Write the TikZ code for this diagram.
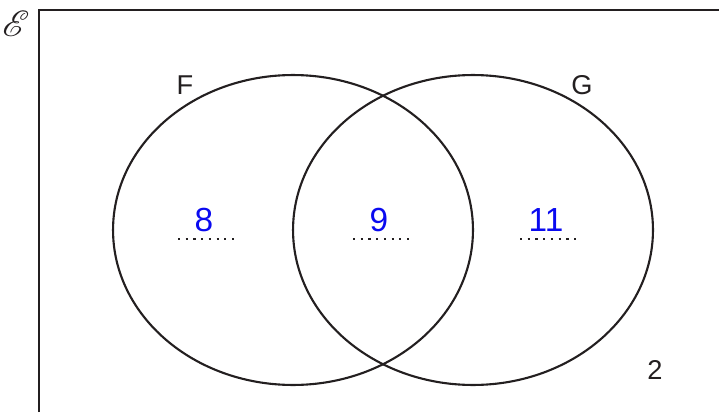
\documentclass[tikz,border=0pt]{standalone}
\usepackage{fontspec}
\usepackage{mathrsfs}
\setsansfont{Liberation Sans}
\usetikzlibrary{shapes.geometric}
\definecolor{inkblack}{HTML}{231F20}
\definecolor{penblue}{HTML}{0A0AF0}

\begin{document}
\begin{tikzpicture}[x=0.02cm, y=-0.02cm,
    every node/.style={font=\sffamily, text=inkblack},
    setring/.style={ellipse, draw=inkblack, line width=1.2pt,
        minimum width=7.2cm, minimum height=6.2cm, inner sep=0pt},
    setname/.style={font=\sffamily\fontsize{15.5}{15.5}\selectfont},
    answer/.style={font=\sffamily\fontsize{19}{19}\selectfont, text=penblue},
    dots/.style={inkblack, line width=1.2pt, dash pattern=on 1.2pt off 3.2pt},
]
\useasboundingbox (0,0) rectangle (719,412);

% Universal set frame
\draw[inkblack, line width=1.6pt] (39,412) -- (39,10) -- (719,10);
\node[font=\fontsize{20}{20}\selectfont] (univ) at (16,24) {$\mathscr{E}$};

% The two sets
\node[setring] (F) at (293,230) {};
\node[setring] (G) at (473,230) {};
\node[setname] (Fname) at (185,85) {F};
\node[setname] (Gname) at (582,85) {G};

% Answer lines
\foreach \x/\n/\v in {178/onlyF/8, 353/both/9, 520/onlyG/11} {
    \coordinate (\n-a) at (\x,239);
    \coordinate (\n-b) at (\x+61,239);
    \draw[dots] (\n-a) -- (\n-b);
    \node[answer] (\n) at (\x+26,220) {\v};
}

% Outside both sets
\node[setname] (outside) at (655,370) {2};

\end{tikzpicture}
\end{document}
